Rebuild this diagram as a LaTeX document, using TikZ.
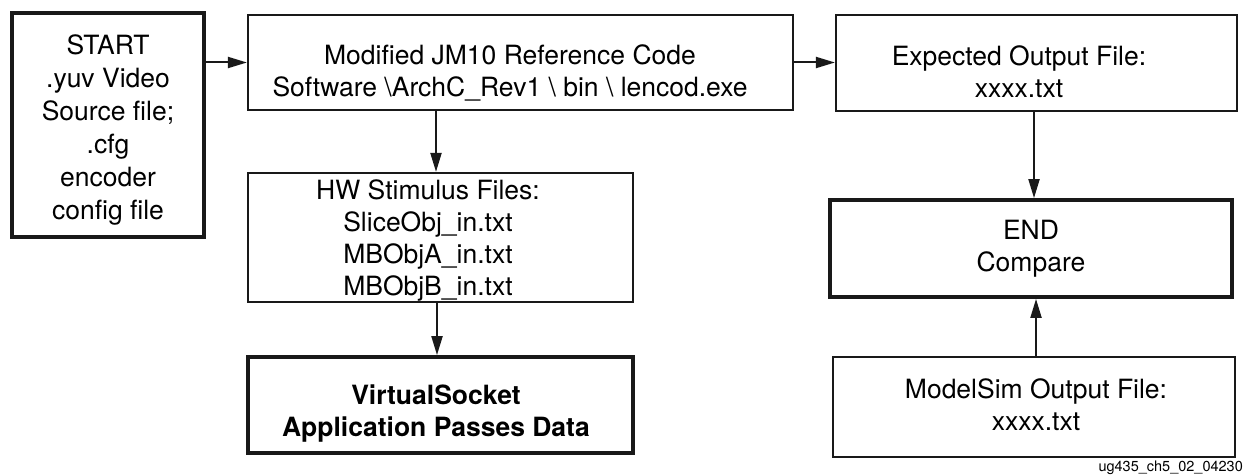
\documentclass[tikz,border=0pt]{standalone}
\usepackage{fontspec}
\setmainfont{TeX Gyre Heros}
\usetikzlibrary{arrows.meta,positioning}
\begin{document}
\begin{tikzpicture}[x=1pt,y=-1pt,
  thinbox/.style={draw=black!90,line width=2.2pt,inner sep=0pt,minimum width=#1},
  thickbox/.style={draw=black!90,line width=3.8pt,inner sep=0pt,minimum width=#1},
  txt/.style={inner sep=0pt,align=center,font=\fontsize{26.5}{32}\selectfont},
  arr/.style={line width=2pt,draw=black!90,-{Triangle[length=19pt,width=11pt]}}]
\useasboundingbox (0,0) rectangle (1244,476);
% boxes
\node[thickbox=192pt,minimum height=224pt] (start) at (108,125) {};
\node[thinbox=545pt,minimum height=95pt] (ref) at (520.5,62.5) {};
\node[thinbox=401pt,minimum height=96pt] (exp) at (1036.5,63) {};
\node[thickbox=402pt,minimum height=97pt] (endn) at (1031,248.5) {};
\node[thinbox=402pt,minimum height=100pt] (ms) at (1034,407) {};
\node[thinbox=385pt,minimum height=129pt] (hw) at (440.5,237.5) {};
\node[thickbox=385pt,minimum height=96pt] (vs) at (440.5,405) {};
% texts
\node[txt,font=\fontsize{26.5}{33}\selectfont] (starttxt) at (108,130) {START\\.yuv Video\\Source file;\\.cfg\\encoder\\config file};
\node[txt] (reftxt) at (510,73) {Modified JM10 Reference Code\\Software \textbackslash ArchC\_Rev1 \textbackslash{} bin \textbackslash{} lencod.exe};
\node[txt] (exptxt) at (1019,72) {Expected Output File:\\xxxx.txt};
\node[txt] (endtxt) at (1031,249) {END\\Compare};
\node[txt] (mstxt) at (1036,405) {ModelSim Output File:\\xxxx.txt};
\node[txt] (hwtxt) at (428,240) {HW Stimulus Files:\\SliceObj\_in.txt\\MBObjA\_in.txt\\MBObjB\_in.txt};
\node[txt,font=\fontsize{26.5}{32}\selectfont\bfseries] (vstxt) at (436,414) {VirtualSocket\\Application Passes Data};
\node[inner sep=0pt,anchor=base east,font=\fontsize{14.5}{16}\selectfont] (fig) at (1243,471) {ug435\_ch5\_02\_04230};
% connectors
\draw[arr] (start.east |- ref.center) -- (ref.west);
\draw[arr] (ref.east) -- (exp.west |- ref.east);
\draw[arr] ([xshift=-4.5pt]hw.north |- ref.south) -- ([xshift=-4.5pt]hw.north);
\draw[arr] ([xshift=-3.5pt]hw.south) -- ([xshift=-3.5pt]vs.north);
\draw[arr] ([xshift=-2.5pt]exp.south) -- ([xshift=-2.5pt]exp.south |- endn.north);
\draw[arr] ([xshift=2pt]ms.north) -- ([xshift=2pt]ms.north |- endn.south);
\end{tikzpicture}
\end{document}
